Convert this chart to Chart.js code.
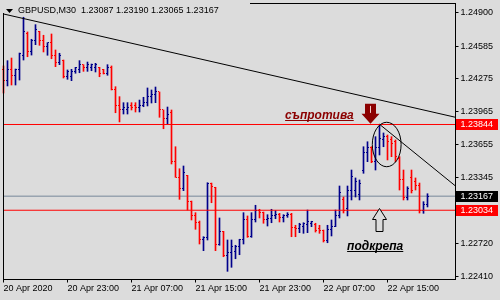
<!DOCTYPE html>
<html>
<head>
<meta charset="utf-8">
<script src="https://cdn.jsdelivr.net/npm/chart.js@4.4.1/dist/chart.umd.min.js"></script>
<style>
  html, body { margin: 0; padding: 0; background: #dcdcdc; }
  #c { display: block; }
</style>
</head>
<body>
<canvas id="c" width="500" height="300"></canvas>
<script>
// GBPUSD M30 bars, 20 Apr 15:00 .. 22 Apr 20:00
const opens = [
  1.24359, 1.24255, 1.24368, 1.24311, 1.24359, 1.24500, 1.24708, 1.24538, 1.24642, 1.24722,
  1.24642, 1.24576, 1.24614, 1.24500, 1.24425, 1.24453, 1.24302, 1.24302, 1.24340, 1.24359,
  1.24406, 1.24378, 1.24387, 1.24378, 1.24378, 1.24359, 1.24330, 1.24387, 1.24170, 1.24019,
  1.23981, 1.23990, 1.24028, 1.24019, 1.24000, 1.24019, 1.24056, 1.24113, 1.24123, 1.24151,
  1.23981, 1.23896, 1.23962, 1.23490, 1.23348, 1.23235, 1.23364, 1.23112, 1.22989, 1.22916,
  1.22753, 1.22778, 1.23282, 1.23251, 1.22706, 1.22835, 1.22602, 1.22633, 1.22640, 1.22696,
  1.22753, 1.22942, 1.22784, 1.22942, 1.23030, 1.23017, 1.22942, 1.22954, 1.22980, 1.22992,
  1.22967, 1.22980, 1.22992, 1.22873, 1.22866, 1.22885, 1.22895, 1.22913, 1.22904, 1.22857,
  1.22847, 1.22746, 1.22854, 1.22885, 1.22989, 1.23140, 1.23055, 1.23225, 1.23225, 1.23178,
  1.23414, 1.23584, 1.23622, 1.23490, 1.23622, 1.23698, 1.23726, 1.23698, 1.23679, 1.23527,
  1.23320, 1.23150, 1.23339, 1.23310, 1.23272, 1.23036, 1.23087
];
const highs = [
  1.24397, 1.24447, 1.24472, 1.24368, 1.24519, 1.24857, 1.24718, 1.24649, 1.24787, 1.24724,
  1.24687, 1.24617, 1.24699, 1.24548, 1.24517, 1.24453, 1.24359, 1.24365, 1.24384, 1.24447,
  1.24409, 1.24434, 1.24415, 1.24422, 1.24384, 1.24365, 1.24409, 1.24397, 1.24201, 1.24107,
  1.24050, 1.24050, 1.24050, 1.24050, 1.24075, 1.24101, 1.24189, 1.24170, 1.24198, 1.24151,
  1.23981, 1.24009, 1.23981, 1.23634, 1.23426, 1.23452, 1.23364, 1.23121, 1.23011, 1.22932,
  1.22784, 1.23294, 1.23291, 1.23251, 1.22961, 1.22835, 1.22753, 1.22753, 1.22703, 1.22760,
  1.23011, 1.22980, 1.23011, 1.23081, 1.23043, 1.23017, 1.22992, 1.23043, 1.23030, 1.23005,
  1.22992, 1.23011, 1.23005, 1.22892, 1.22911, 1.22916, 1.23036, 1.22930, 1.22911, 1.22892,
  1.22847, 1.22892, 1.22942, 1.23036, 1.23263, 1.23159, 1.23263, 1.23414, 1.23339, 1.23320,
  1.23634, 1.23681, 1.23634, 1.23729, 1.23846, 1.23764, 1.23745, 1.23729, 1.23698, 1.23540,
  1.23414, 1.23256, 1.23414, 1.23339, 1.23291, 1.23115, 1.23190
];
const lows = [
  1.24141, 1.24208, 1.24217, 1.24217, 1.24264, 1.24453, 1.24484, 1.24500, 1.24598, 1.24592,
  1.24529, 1.24498, 1.24465, 1.24390, 1.24409, 1.24283, 1.24271, 1.24258, 1.24328, 1.24333,
  1.24346, 1.24346, 1.24352, 1.24340, 1.24295, 1.24321, 1.24309, 1.24170, 1.23955, 1.23868,
  1.23943, 1.23943, 1.23981, 1.23962, 1.23962, 1.24012, 1.24019, 1.24047, 1.24050, 1.23912,
  1.23804, 1.23849, 1.23471, 1.23345, 1.23137, 1.23219, 1.23036, 1.22942, 1.22854, 1.22715,
  1.22652, 1.22753, 1.23105, 1.22652, 1.22703, 1.22595, 1.22457, 1.22495, 1.22576, 1.22614,
  1.22715, 1.22778, 1.22778, 1.22923, 1.22961, 1.22911, 1.22885, 1.22916, 1.22954, 1.22923,
  1.22923, 1.22967, 1.22784, 1.22784, 1.22822, 1.22816, 1.22822, 1.22879, 1.22828, 1.22816,
  1.22734, 1.22727, 1.22791, 1.22879, 1.22961, 1.23008, 1.22980, 1.23131, 1.23159, 1.23131,
  1.23383, 1.23493, 1.23483, 1.23414, 1.23556, 1.23634, 1.23509, 1.23540, 1.23493, 1.23225,
  1.23131, 1.23131, 1.23197, 1.23225, 1.23008, 1.23005, 1.23065
];
const closes = [
  1.24255, 1.24368, 1.24311, 1.24359, 1.24510, 1.24718, 1.24532, 1.24642, 1.24737, 1.24642,
  1.24576, 1.24614, 1.24500, 1.24425, 1.24491, 1.24302, 1.24340, 1.24340, 1.24378, 1.24415,
  1.24378, 1.24415, 1.24406, 1.24406, 1.24321, 1.24330, 1.24387, 1.24170, 1.24019, 1.23990,
  1.24000, 1.24000, 1.24009, 1.24009, 1.24019, 1.24050, 1.24113, 1.24123, 1.24151, 1.23981,
  1.23896, 1.23943, 1.23490, 1.23348, 1.23235, 1.23395, 1.23117, 1.22989, 1.22916, 1.22753,
  1.22778, 1.23288, 1.23254, 1.22715, 1.22835, 1.22602, 1.22633, 1.22690, 1.22696, 1.22753,
  1.22942, 1.22784, 1.22942, 1.23030, 1.23017, 1.22942, 1.22954, 1.22980, 1.22992, 1.22967,
  1.22980, 1.22992, 1.22873, 1.22866, 1.22897, 1.22911, 1.22923, 1.22923, 1.22841, 1.22847,
  1.22746, 1.22854, 1.22876, 1.22989, 1.23197, 1.23036, 1.23225, 1.23357, 1.23301, 1.23282,
  1.23584, 1.23622, 1.23490, 1.23622, 1.23716, 1.23726, 1.23679, 1.23660, 1.23546, 1.23320,
  1.23150, 1.23244, 1.23225, 1.23272, 1.23036, 1.23084, 1.23167
];

const xTickLabels = ['20 Apr 2020', '20 Apr 23:00', '21 Apr 07:00', '21 Apr 15:00', '21 Apr 23:00', '22 Apr 07:00', '22 Apr 15:00'];
const yTicks = [1.22410, 1.22720, 1.23345, 1.23655, 1.23965, 1.24275, 1.24585, 1.24900];

const resistance = 1.23844;
const support = 1.23034;
const lastPrice = 1.23167;
const trendMain = [{ x: 0, y: 1.24888 }, { x: 113, y: 1.23912 }];
const trendShort = [{ x: 94, y: 1.23846 }, { x: 113, y: 1.23263 }];

const UP = '#00008b';
const DOWN = '#ff0000';
const BG = '#dcdcdc';
const FONT = '"Liberation Sans", Arial, sans-serif';
const BARS_PER_LABEL = 16;
const X_MAX = 113;

function hline(v) { return [{ x: 0, y: v }, { x: X_MAX, y: v }]; }

// open / close ticks, drawn right after the high-low bars
const ohlcTicks = {
  id: 'ohlcTicks',
  afterDatasetDraw(chart, args) {
    if (args.index !== 0) return;
    const { ctx, scales: { x, y } } = chart;
    ctx.save();
    for (let i = 0; i < closes.length; i++) {
      const px = Math.floor(x.getPixelForValue(i));
      ctx.fillStyle = closes[i] >= opens[i] ? UP : DOWN;
      ctx.fillRect(px - 1, Math.floor(y.getPixelForValue(opens[i])), 1, 1);
      ctx.fillRect(px + 1, Math.floor(y.getPixelForValue(closes[i])), 1, 1);
    }
    ctx.restore();
  }
};

const frame = {
  id: 'frame',
  beforeDraw(chart) {
    const { ctx, width, height } = chart;
    ctx.save();
    ctx.fillStyle = BG;
    ctx.fillRect(0, 0, width, height);
    ctx.restore();
  },
  afterDraw(chart) {
    const { ctx, chartArea: a, scales: { x, y } } = chart;
    ctx.save();
    // plot frame
    ctx.strokeStyle = '#000';
    ctx.lineWidth = 1;
    ctx.strokeRect(a.left, a.top, a.right - a.left, a.bottom - a.top);

    // ellipse round the top
    const ex0 = x.getPixelForValue(92.2), ex1 = x.getPixelForValue(99.4);
    const ey0 = y.getPixelForValue(1.23865), ey1 = y.getPixelForValue(1.23445);
    ctx.beginPath();
    ctx.ellipse((ex0 + ex1) / 2, (ey0 + ey1) / 2, (ex1 - ex0) / 2, (ey1 - ey0) / 2, 0, 0, Math.PI * 2);
    ctx.stroke();

    // down arrow (resistance)
    let tx = x.getPixelForValue(91.75), ty = y.getPixelForValue(1.23850);
    ctx.fillStyle = '#8b0000';
    ctx.beginPath();
    ctx.moveTo(tx, ty);
    ctx.lineTo(tx - 9, ty - 10);
    ctx.lineTo(tx - 5.5, ty - 10);
    ctx.lineTo(tx - 5.5, ty - 20);
    ctx.lineTo(tx + 5.5, ty - 20);
    ctx.lineTo(tx + 5.5, ty - 10);
    ctx.lineTo(tx + 9, ty - 10);
    ctx.closePath();
    ctx.fill();
    ctx.fillStyle = '#f0c8c8';
    ctx.fillRect(Math.floor(tx), ty - 18, 1, 7);

    // up arrow outline (support)
    tx = Math.floor(x.getPixelForValue(93.9)) + 0.5; ty = Math.floor(y.getPixelForValue(1.23046)) + 0.5;
    ctx.fillStyle = BG;
    ctx.strokeStyle = '#000';
    ctx.beginPath();
    ctx.moveTo(tx, ty);
    ctx.lineTo(tx + 7, ty + 11);
    ctx.lineTo(tx + 3.5, ty + 11);
    ctx.lineTo(tx + 3.5, ty + 23);
    ctx.lineTo(tx - 3.5, ty + 23);
    ctx.lineTo(tx - 3.5, ty + 11);
    ctx.lineTo(tx - 7, ty + 11);
    ctx.closePath();
    ctx.fill();
    ctx.stroke();

    // captions
    ctx.font = 'italic bold 12px ' + FONT;
    ctx.textBaseline = 'alphabetic';
    ctx.textAlign = 'left';
    const caption = (txt, ix, price, col) => {
      const cx = x.getPixelForValue(ix), cy = y.getPixelForValue(price);
      ctx.fillStyle = col;
      ctx.fillText(txt, cx, cy);
      const w = ctx.measureText(txt).width;
      ctx.fillRect(cx, Math.round(cy) + 1, w, 1);
    };
    caption('съпротива', 70.4, 1.23896, '#8b0000');
    caption('подкрепа', 85.9, 1.22658, '#000');

    // price labels on the axis
    ctx.font = '9px ' + FONT;
    ctx.textBaseline = 'middle';
    const tag = (v, col) => {
      const py = Math.round(y.getPixelForValue(v));
      ctx.fillStyle = col;
      ctx.fillRect(a.right + 0.5, py - 5, 42, 11);
      ctx.fillStyle = '#fff';
      ctx.fillText(v.toFixed(5), a.right + 5, py + 0.5);
    };
    tag(resistance, '#ff0000');
    tag(lastPrice, '#000');
    tag(support, '#ff0000');

    // symbol header
    ctx.fillStyle = BG;
    ctx.fillRect(0, 0, 250, 13);
    ctx.fillStyle = '#000';
    ctx.beginPath();
    ctx.moveTo(6, 9); ctx.lineTo(13, 9); ctx.lineTo(9.5, 13); ctx.closePath();
    ctx.fill();
    ctx.fillText('GBPUSD,M30  ' + [opens, highs, lows, closes].map(s => s[s.length - 1].toFixed(5)).join(' '), 18, 11);
    ctx.restore();
  }
};

new Chart(document.getElementById('c'), {
  type: 'bar',
  data: {
    datasets: [
      {
        type: 'bar',
        data: highs.map((h, i) => ({ x: i, y: [lows[i], h] })),
        backgroundColor: closes.map((c, i) => c >= opens[i] ? UP : DOWN),
        barThickness: 1,
        borderWidth: 0,
        borderSkipped: false,
        grouped: false,
        clip: false,
        order: 3
      },
      { type: 'line', data: hline(lastPrice), borderColor: '#778899', borderWidth: 1, pointRadius: 0, order: 5 },
      { type: 'line', data: hline(resistance), borderColor: '#ff0000', borderWidth: 1, pointRadius: 0, order: 1 },
      { type: 'line', data: hline(support), borderColor: '#ff0000', borderWidth: 1, pointRadius: 0, order: 1 },
      { type: 'line', data: trendMain, borderColor: '#000', borderWidth: 1, pointRadius: 0, order: 1 },
      { type: 'line', data: trendShort, borderColor: '#000', borderWidth: 1, pointRadius: 0, order: 1 }
    ]
  },
  options: {
    responsive: false,
    animation: false,
    devicePixelRatio: 1,
    layout: { padding: { left: 3.5, top: 3.5, right: 0, bottom: 0 } },
    plugins: { legend: { display: false }, tooltip: { enabled: false }, title: { display: false } },
    scales: {
      x: {
        type: 'linear',
        offset: false,
        min: 0,
        max: X_MAX,
        afterBuildTicks: s => { s.ticks = xTickLabels.map((_, k) => ({ value: k * BARS_PER_LABEL })); },
        afterFit: s => { s.height = 20.5; s.paddingLeft = 0; s.paddingRight = 0; },
        grid: { offset: false, drawOnChartArea: false, tickLength: 3, color: '#000' },
        border: { display: false },
        ticks: {
          align: 'start',
          autoSkip: false,
          maxRotation: 0,
          padding: 1,
          color: '#000',
          font: { family: FONT, size: 9 },
          callback: v => xTickLabels[v / BARS_PER_LABEL]
        }
      },
      y: {
        position: 'right',
        min: 1.223798,
        max: 1.249869,
        afterBuildTicks: s => { s.ticks = yTicks.map(v => ({ value: v })); },
        afterFit: s => { s.width = 44.5; s.paddingTop = 0; s.paddingBottom = 0; },
        grid: { drawOnChartArea: false, tickLength: 3, color: '#000' },
        border: { display: false },
        ticks: {
          padding: 2,
          color: '#000',
          font: { family: FONT, size: 9 },
          callback: v => v.toFixed(5)
        }
      }
    }
  },
  plugins: [frame, ohlcTicks]
});
</script>
</body>
</html>
